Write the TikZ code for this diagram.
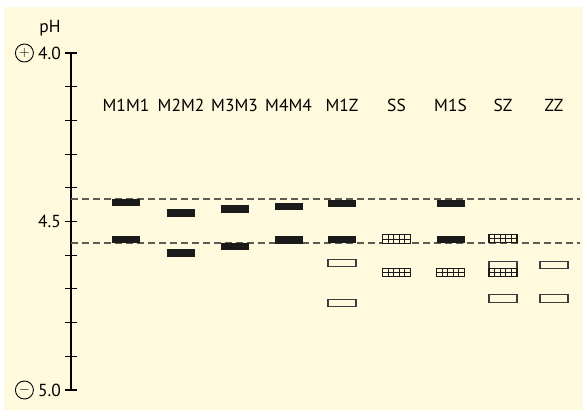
\documentclass[tikz,border=0pt]{standalone}
\usepackage{fontspec}
\setmainfont{PT Sans}
\usetikzlibrary{positioning,calc}
\definecolor{paper}{HTML}{FFFADD}
\definecolor{ink}{HTML}{1A1A1A}
\definecolor{guide}{HTML}{5C5C54}

\begin{document}
\begin{tikzpicture}[x=1bp, y=-1bp,
  band/.style={rectangle, inner sep=0pt, minimum width=28bp, minimum height=#1},
  solidband/.style={band=7.8bp, fill=ink},
  openband/.style={band=7.5bp, draw=ink!85, line width=1.2bp, fill=paper},
  gridband/.style={band=8.5bp, draw=ink, line width=1.2bp, fill=paper,
    path picture={
      \draw[ink, line width=0.9bp] (path picture bounding box.west) -- (path picture bounding box.east);
      \foreach \f in {0.2,0.4,0.6,0.8}
        \draw[ink, line width=0.9bp]
          ($(path picture bounding box.south west)!\f!(path picture bounding box.south east)$) -- ++(0,10bp);
    }},
  lane/.style={font=\fontsize{17.5}{19}\selectfont},
  scale label/.style={font=\fontsize{17.5}{19}\selectfont, inner sep=1bp},
  sign/.style={circle, draw, line width=0.9bp, inner sep=0pt, minimum size=18bp, font=\fontsize{15}{15}\selectfont},
  level/.style={guide, line width=1.2bp, dash pattern=on 7bp off 4bp}
]
  % paper and frame
  \useasboundingbox (0,0) rectangle (583,410);
  \fill[paper] (4,7) rectangle (583,410);

  % pH scale
  \coordinate (top) at (71,53);
  \coordinate (bottom) at (71,390);
  \draw[line width=1.1bp] (top) -- (bottom);
  \foreach \k in {0,...,10}
    \draw[line width=1.1bp] (65,{53+33.7*\k}) -- (77,{53+33.7*\k});
  \node[scale label, anchor=east] (ph40) at (62,53) {4.0};
  \node[scale label, anchor=east] (ph45) at (62,221.5) {4.5};
  \node[scale label, anchor=east] (ph50) at (62,390) {5.0};
  \node[sign, left=3bp of ph40] (plus) {$+$};
  \node[sign, left=3bp of ph50] (minus) {$-$};
  \node[scale label] (phlabel) at (50,28) {pH};

  % reference levels
  \coordinate (hi-l) at (71,199);
  \coordinate (hi-r) at (580,199);
  \coordinate (lo-l) at (71,243);
  \coordinate (lo-r) at (580,243);
  \draw[level] (hi-l) -- (hi-r);
  \draw[level] (lo-l) -- (lo-r);

  % lane headings
  \foreach \name/\x in {M1M1/126, M2M2/181, M3M3/234.5, M4M4/288.5, M1Z/342,
                        SS/396.5, M1S/450.5, SZ/503, ZZ/554}
    \node[lane] (lab-\name) at (\x,105) {\name};

  % bands
  \node[solidband] (m1m1-a) at (126,202.5) {};
  \node[solidband] (m1m1-b) at (126,239.5) {};
  \node[solidband] (m2m2-a) at (181,213) {};
  \node[solidband] (m2m2-b) at (181,253) {};
  \node[solidband] (m3m3-a) at (234.5,209) {};
  \node[solidband] (m3m3-b) at (234.5,246.5) {};
  \node[solidband] (m4m4-a) at (288.5,206.5) {};
  \node[solidband] (m4m4-b) at (288.5,240) {};

  \node[solidband] (m1z-a) at (342,203.5) {};
  \node[solidband] (m1z-b) at (342,239.5) {};
  \node[openband] (m1z-c) at (342,263) {};
  \node[openband] (m1z-d) at (342,303) {};

  \node[gridband] (ss-a) at (396.5,239) {};
  \node[gridband] (ss-b) at (396.5,272.5) {};

  \node[solidband] (m1s-a) at (450.5,203.5) {};
  \node[solidband] (m1s-b) at (450.5,239.5) {};
  \node[gridband] (m1s-c) at (450.5,272.5) {};

  \node[gridband] (sz-a) at (503,238.5) {};
  \node[openband] (sz-b) at (503,265.5) {};
  \node[gridband] (sz-c) at (503,272.5) {};
  \node[openband] (sz-d) at (503,298.5) {};

  \node[openband] (zz-a) at (554,265) {};
  \node[openband] (zz-b) at (554,298.5) {};
\end{tikzpicture}
\end{document}
